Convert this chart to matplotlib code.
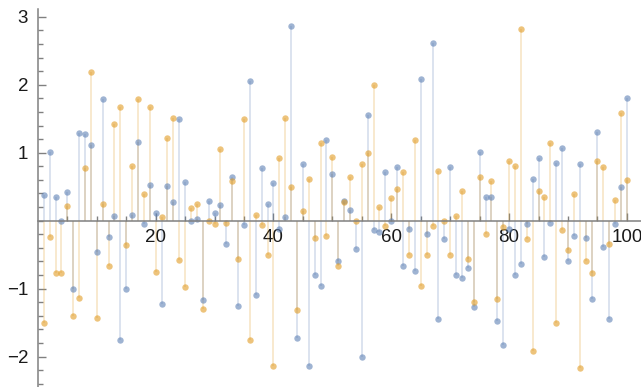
import matplotlib
matplotlib.use("Agg")
import matplotlib.pyplot as plt
import numpy as np

# two series of 100 values
blue = [0.38, 1.01, 0.35, -0.01, 0.42, -1.00, 1.29, 1.27, 1.12, -0.46,
        1.79, -0.24, 0.07, -1.75, -1.00, 0.09, 1.16, -0.05, 0.53, 0.12,
        -1.23, 0.51, 0.27, 1.49, 0.57, -0.01, 0.03, -1.17, 0.29, 0.12,
        0.23, -0.34, 0.64, -1.25, -0.06, 2.05, -1.10, 0.77, 0.25, 0.55,
        -0.12, 0.05, 2.86, -1.72, 0.83, -2.13, -0.80, -0.96, 1.19, 0.69,
        -0.60, 0.29, 0.16, -0.41, -2.00, 1.55, -0.14, -0.17, 0.71, -0.01,
        0.79, -0.67, -0.12, -0.74, 2.08, -0.19, 2.62, -1.44, -0.27, 0.79,
        -0.80, -0.84, -0.69, -1.27, 1.01, 0.35, 0.35, -1.48, -1.83, -0.12,
        -0.80, -0.63, -0.05, 0.61, 0.92, -0.54, -0.04, 0.85, 1.07, -0.60,
        -0.22, 0.83, -0.25, -1.15, 1.31, -0.39, -1.44, -0.05, 0.49, 1.81]

orange = [-1.51, -0.24, -0.77, -0.77, 0.21, -1.40, -1.14, 0.77, 2.19, -1.43,
          0.25, -0.66, 1.42, 1.67, -0.36, 0.81, 1.79, 0.40, 1.67, -0.75,
          0.05, 1.21, 1.51, -0.58, -0.97, 0.18, 0.25, -1.30, -0.01, -0.05,
          1.05, -0.04, 0.58, -0.56, 1.49, -1.75, 0.09, -0.06, -0.50, -2.13,
          0.92, 1.51, 0.49, -1.32, 0.14, 0.61, -0.25, 1.14, -0.22, 0.94,
          -0.67, 0.27, 0.64, -0.01, 0.83, 0.99, 1.99, 0.20, -0.08, 0.33,
          0.47, 0.71, -0.51, 1.19, -0.96, -0.51, -0.08, 0.73, -0.01, -0.51,
          0.07, 0.44, -0.56, -1.19, 0.64, -0.19, 0.59, -1.15, -0.10, 0.88,
          0.81, 2.82, -0.27, -1.91, 0.44, 0.35, 1.14, -1.50, -0.13, -0.43,
          0.40, -2.16, -0.60, -0.77, 0.88, 0.79, -0.34, 0.31, 1.58, 0.60]

x_major = [20, 40, 60, 80, 100]
y_major = [-2, -1, 1, 2, 3]
y_labels = ["\u22122", "\u22121", "1", "2", "3"]

plt.rcParams['font.family'] = ['Liberation Sans', 'DejaVu Sans']

fig = plt.figure(figsize=(6.41, 3.87), dpi=100)
ax = fig.add_axes([37.9 / 641, 0, 1 - 37.9 / 641, 1])
ax.patch.set_alpha(0)

n = np.arange(1, len(blue) + 1)
c_blue = '#5E81B5'
c_orange = '#E19C24'

# stems to the axis first, then the points
ax.vlines(n, 0, blue, color=c_blue, alpha=0.22, lw=1.4)
ax.vlines(n, 0, orange, color=c_orange, alpha=0.22, lw=1.4)
ax.plot(n, blue, 'o', color=c_blue, ms=4.6, mew=0, alpha=0.6)
ax.plot(n, orange, 'o', color=c_orange, ms=4.6, mew=0, alpha=0.6)

ax.set_xlim(0, 102.4)
ax.set_ylim(-2.446, 3.246)

for s in ['top', 'right']:
    ax.spines[s].set_visible(False)
ax.spines['bottom'].set_position(('data', 0))
ax.spines['left'].set_bounds(-2.5, 3.12)
for s in ['left', 'bottom']:
    ax.spines[s].set_color('#808080')
    ax.spines[s].set_linewidth(1.1)

ax.set_xticks(x_major)
ax.set_xticklabels([str(v) for v in x_major])
ax.set_xticks(np.arange(5, 101, 5), minor=True)
ax.set_yticks(y_major)
ax.set_yticklabels(y_labels)
ax.set_yticks(np.arange(-2.4, 3.01, 0.2), minor=True)

ax.tick_params(which='both', direction='in', color='#808080', width=1)
ax.tick_params(which='major', length=6, labelsize=13.5, labelcolor='#1a1a1a')
ax.tick_params(which='minor', length=3.5)
ax.tick_params(axis='x', which='major', pad=6)
ax.tick_params(axis='y', which='major', pad=7)

fig.savefig('out.png', dpi=100)
